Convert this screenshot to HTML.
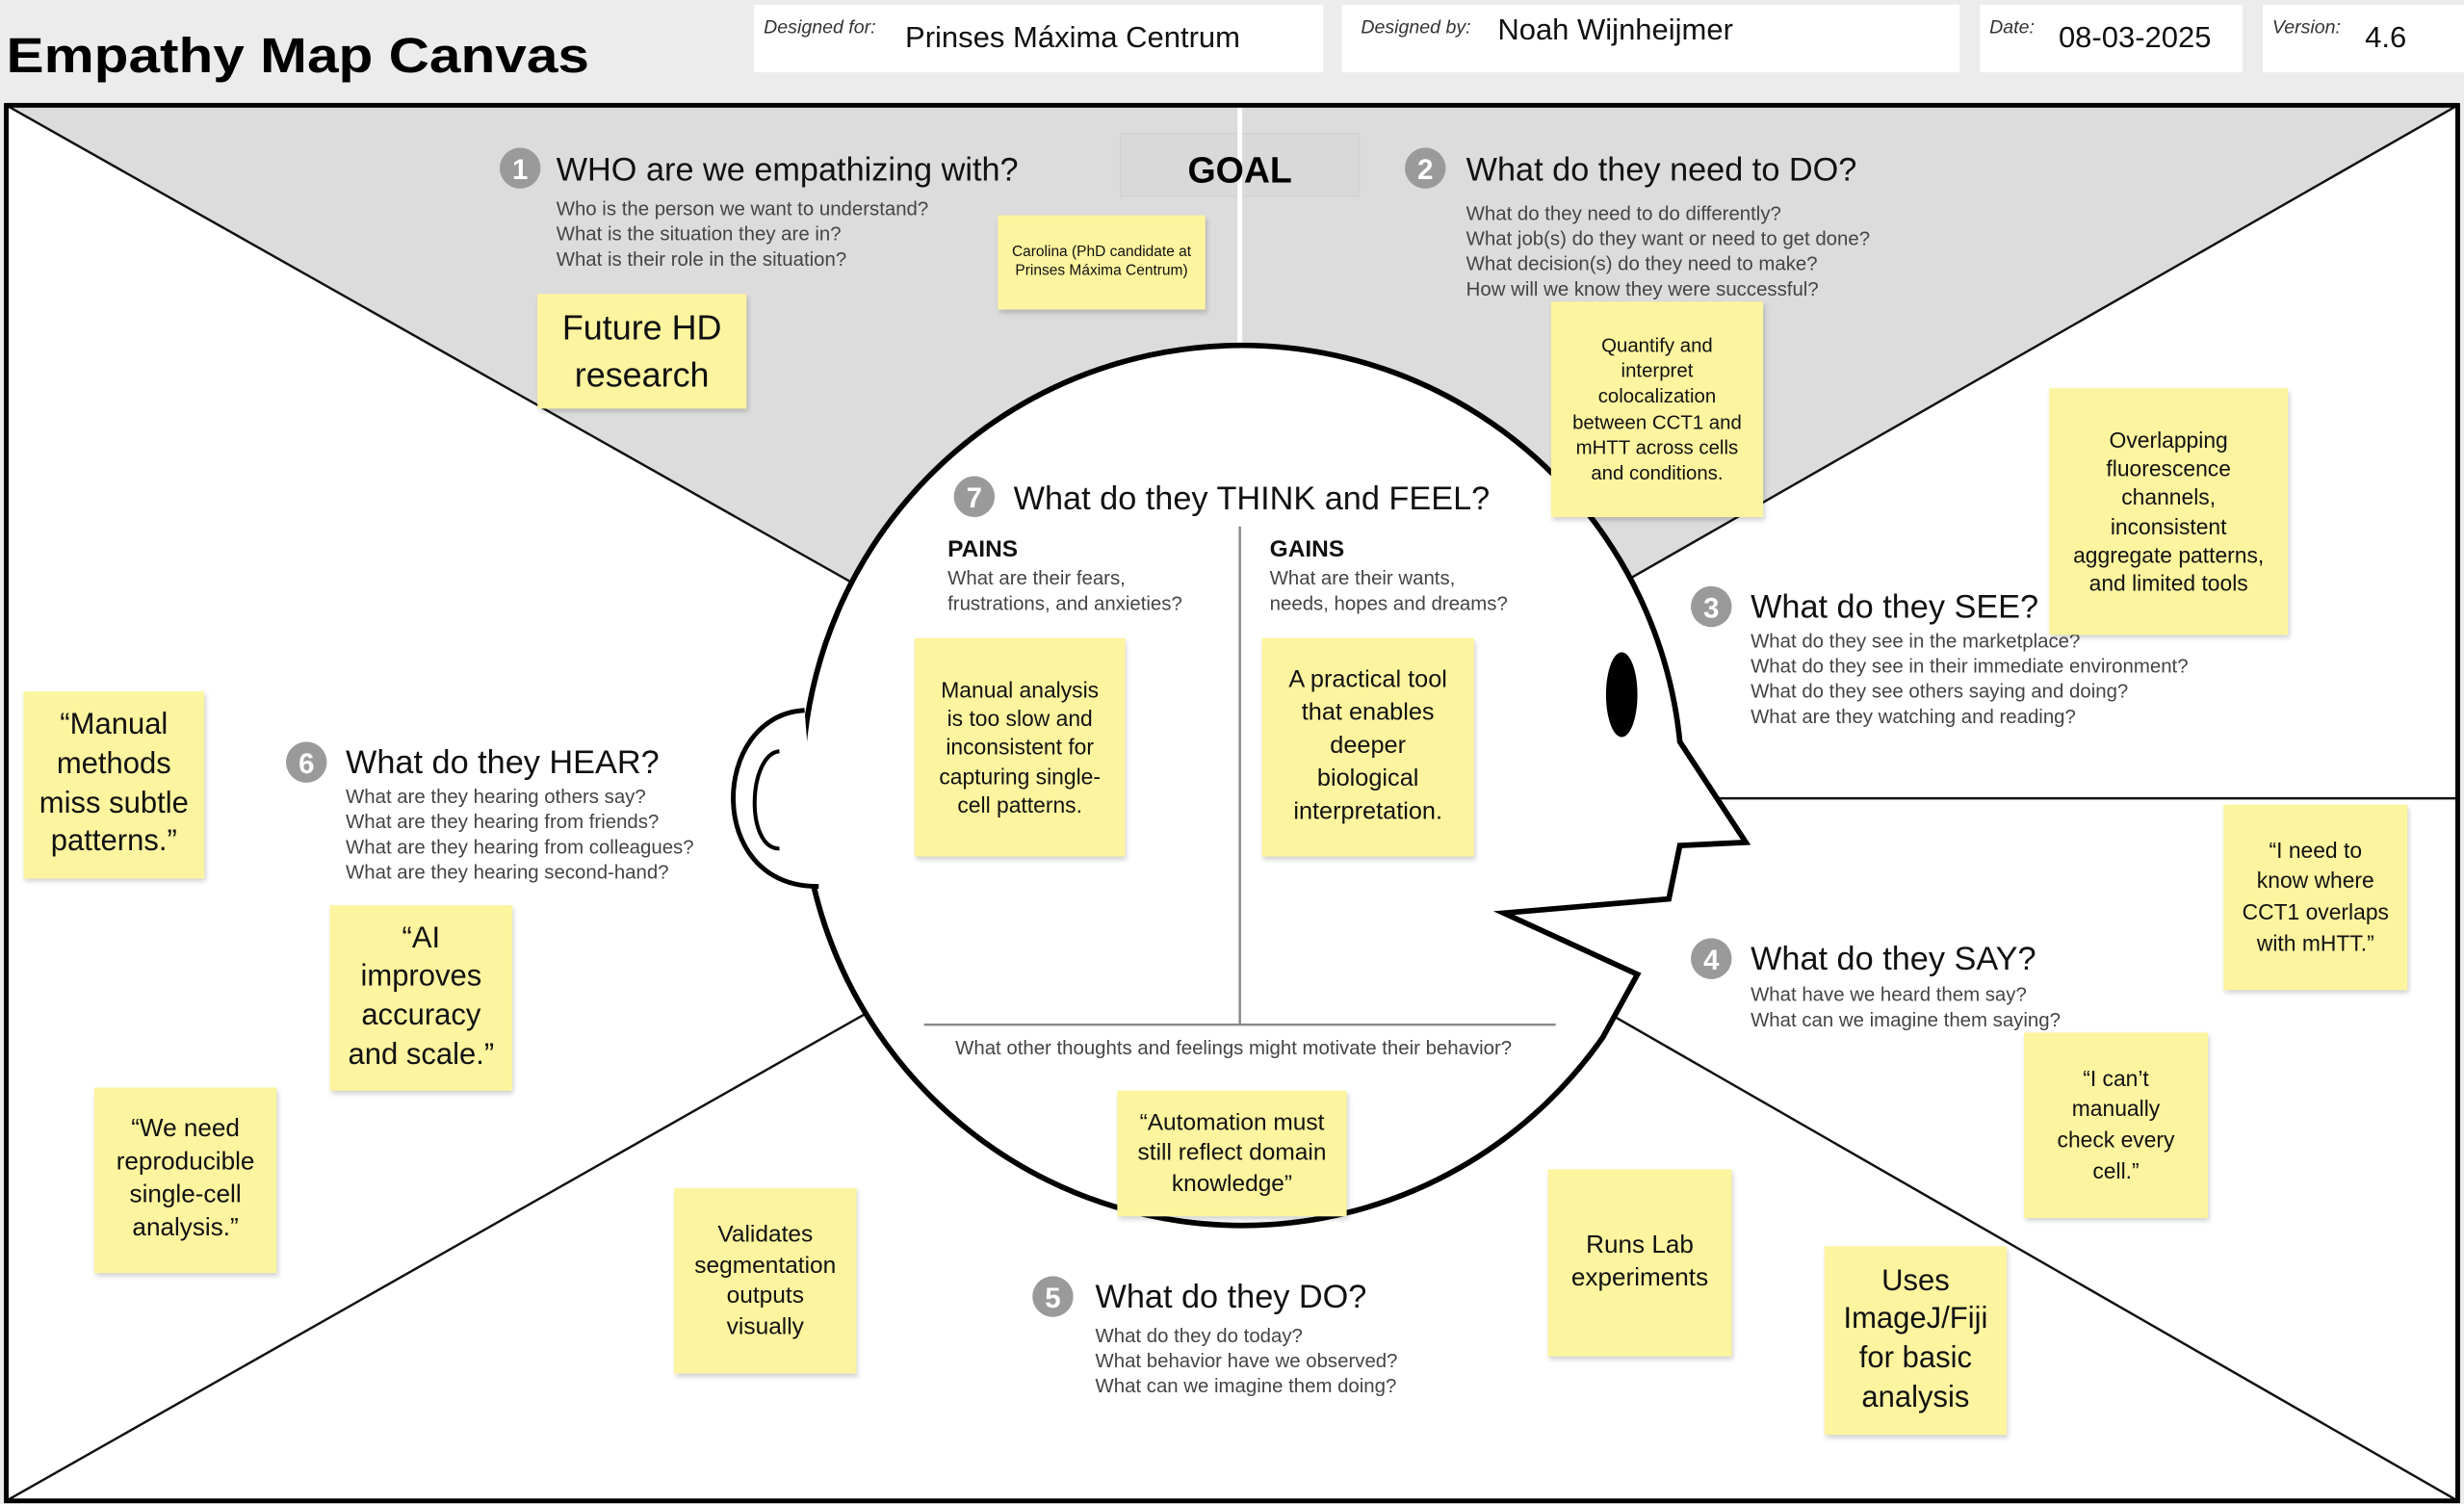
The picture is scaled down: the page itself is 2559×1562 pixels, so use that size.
<!DOCTYPE html>
<html><head><meta charset="utf-8">
<style>
html,body{margin:0;padding:0;background:#ececec;}
body{width:2559px;height:1562px;overflow:hidden;position:relative;}
#c{position:absolute;left:0;top:0;width:1568px;height:957px;transform:scale(1.63202,1.63218);transform-origin:0 0;font-family:"Liberation Sans",sans-serif;}
svg{position:absolute;left:0;top:0;}
.n{position:absolute;background:#fdf49f;box-shadow:1px 2px 3px rgba(0,0,0,0.18);display:flex;align-items:center;justify-content:center;text-align:center;color:#111;line-height:1.3;box-sizing:border-box;padding:4px;font-family:"Liberation Sans",sans-serif;white-space:nowrap;}
</style></head><body>
<div id="c">
<svg width="1568" height="957" viewBox="0 0 1568 957" font-family="Liberation Sans, sans-serif">
<rect x="0" y="0" width="1568" height="62" fill="#ececec"/>
<text x="4" y="46" font-size="31" font-weight="bold" textLength="371" lengthAdjust="spacingAndGlyphs">Empathy Map Canvas</text>
<rect x="480" y="3" width="362" height="43" fill="#fff"/>
<rect x="854" y="3" width="393" height="43" fill="#fff"/>
<rect x="1260" y="3" width="167" height="43" fill="#fff"/>
<rect x="1440" y="3" width="128" height="43" fill="#fff"/>
<g font-size="12" font-style="italic" fill="#333">
<text x="486" y="21">Designed for:</text>
<text x="866" y="21">Designed by:</text>
<text x="1266" y="21">Date:</text>
<text x="1446" y="21">Version:</text>
</g>
<g font-size="19" fill="#111">
<text x="576" y="30">Prinses Máxima Centrum</text>
<text x="953" y="25">Noah Wijnheijmer</text>
<text x="1310" y="30">08-03-2025</text>
<text x="1505" y="30">4.6</text>
</g>
<rect x="4" y="67" width="1560" height="888" fill="#fff"/>
<polygon points="4,67 1564,67 789,510" fill="#dcdcdc"/>
<rect x="713" y="85" width="152" height="40" fill="#d9d9d9" stroke="#d2d2d2" stroke-width="1"/>
<line x1="789" y1="67" x2="789" y2="230" stroke="#fff" stroke-width="3"/>
<g stroke="#111" stroke-width="1.5">
<line x1="4" y1="67" x2="789" y2="510"/>
<line x1="1564" y1="67" x2="789" y2="510"/>
<line x1="4" y1="955" x2="789" y2="510"/>
<line x1="1564" y1="955" x2="789" y2="510"/>
<line x1="1000" y1="508" x2="1564" y2="508"/>
</g>
<path d="M1069 472 A280 280 0 1 0 1020 660 L1042 620 L957 581 L1062 572 L1069 538 L1111 536 Z" fill="#fff" stroke="#000" stroke-width="3.5" stroke-linejoin="miter"/>
<path d="M512 452 C452 455 448 565 521 564" fill="#fff" stroke="#000" stroke-width="3"/>
<path d="M496 478 C476 480 474 540 496 540" fill="none" stroke="#000" stroke-width="2.5"/>
<ellipse cx="1032" cy="442" rx="10" ry="27" fill="#000"/>
<line x1="789" y1="335" x2="789" y2="652" stroke="#888" stroke-width="1.5"/>
<line x1="588" y1="652" x2="990" y2="652" stroke="#888" stroke-width="1.5"/>
<rect x="4" y="67" width="1560" height="888" fill="none" stroke="#000" stroke-width="3"/>
<text x="789" y="116" font-size="23" font-weight="bold" text-anchor="middle">GOAL</text>
<g fill="#9a9a9a">
<circle cx="331" cy="107" r="13"/><circle cx="907" cy="107" r="13"/><circle cx="620" cy="316" r="13"/>
<circle cx="1089" cy="386" r="13"/><circle cx="1089" cy="610" r="13"/><circle cx="195" cy="485" r="13"/><circle cx="670" cy="825" r="13"/>
</g>
<g fill="#fff" font-size="18" font-weight="bold" text-anchor="middle">
<text x="331" y="114">1</text><text x="907" y="114">2</text><text x="620" y="323">7</text>
<text x="1089" y="393">3</text><text x="1089" y="617">4</text><text x="195" y="492">6</text><text x="670" y="832">5</text>
</g>
<g font-size="21" fill="#111">
<text x="354" y="115">WHO are we empathizing with?</text>
<text x="933" y="115">What do they need to DO?</text>
<text x="645" y="324">What do they THINK and FEEL?</text>
<text x="1114" y="393">What do they SEE?</text>
<text x="1114" y="617">What do they SAY?</text>
<text x="220" y="492">What do they HEAR?</text>
<text x="697" y="832">What do they DO?</text>
</g>
<g font-size="15" font-weight="bold" fill="#111">
<text x="603" y="354">PAINS</text><text x="808" y="354">GAINS</text>
</g>
<g font-size="12.5" fill="#444">
<text x="354" y="137">Who is the person we want to understand?</text>
<text x="354" y="153">What is the situation they are in?</text>
<text x="354" y="169">What is their role in the situation?</text>
<text x="933" y="140">What do they need to do differently?</text>
<text x="933" y="156">What job(s) do they want or need to get done?</text>
<text x="933" y="172">What decision(s) do they need to make?</text>
<text x="933" y="188">How will we know they were successful?</text>
<text x="603" y="372">What are their fears,</text>
<text x="603" y="388">frustrations, and anxieties?</text>
<text x="808" y="372">What are their wants,</text>
<text x="808" y="388">needs, hopes and dreams?</text>
<text x="785" y="671" text-anchor="middle">What other thoughts and feelings might motivate their behavior?</text>
<text x="1114" y="412">What do they see in the marketplace?</text>
<text x="1114" y="428">What do they see in their immediate environment?</text>
<text x="1114" y="444">What do they see others saying and doing?</text>
<text x="1114" y="460">What are they watching and reading?</text>
<text x="1114" y="637">What have we heard them say?</text>
<text x="1114" y="653">What can we imagine them saying?</text>
<text x="220" y="511">What are they hearing others say?</text>
<text x="220" y="527">What are they hearing from friends?</text>
<text x="220" y="543">What are they hearing from colleagues?</text>
<text x="220" y="559">What are they hearing second-hand?</text>
<text x="697" y="854">What do they do today?</text>
<text x="697" y="870">What behavior have we observed?</text>
<text x="697" y="886">What can we imagine them doing?</text>
</g>
</svg>
<div class="n" style="left:342px;top:187px;width:133px;height:73px;font-size:22px;line-height:1.35">Future HD<br>research</div>
<div class="n" style="left:635px;top:137px;width:132px;height:60px;font-size:9.5px">Carolina (PhD candidate at<br>Prinses Máxima Centrum)</div>
<div class="n" style="left:987px;top:192px;width:135px;height:137px;font-size:12.5px">Quantify and<br>interpret<br>colocalization<br>between CCT1 and<br>mHTT across cells<br>and conditions.</div>
<div class="n" style="left:1304px;top:247px;width:152px;height:157px;font-size:14px">Overlapping<br>fluorescence<br>channels,<br>inconsistent<br>aggregate patterns,<br>and limited tools</div>
<div class="n" style="left:582px;top:406px;width:134px;height:139px;font-size:14px">Manual analysis<br>is too slow and<br>inconsistent for<br>capturing single-<br>cell patterns.</div>
<div class="n" style="left:803px;top:406px;width:135px;height:139px;font-size:15.5px;line-height:1.35">A practical tool<br>that enables<br>deeper<br>biological<br>interpretation.</div>
<div class="n" style="left:15px;top:440px;width:115px;height:119px;font-size:19px">“Manual<br>methods<br>miss subtle<br>patterns.”</div>
<div class="n" style="left:210px;top:576px;width:116px;height:118px;font-size:19px">“AI<br>improves<br>accuracy<br>and scale.”</div>
<div class="n" style="left:60px;top:692px;width:116px;height:118px;font-size:16px">“We need<br>reproducible<br>single-cell<br>analysis.”</div>
<div class="n" style="left:429px;top:756px;width:116px;height:118px;font-size:15px">Validates<br>segmentation<br>outputs<br>visually</div>
<div class="n" style="left:711px;top:694px;width:146px;height:80px;font-size:15px">“Automation must<br>still reflect domain<br>knowledge”</div>
<div class="n" style="left:985px;top:744px;width:117px;height:119px;font-size:16px">Runs Lab<br>experiments</div>
<div class="n" style="left:1415px;top:512px;width:117px;height:118px;font-size:14px;line-height:1.4">“I need to<br>know where<br>CCT1 overlaps<br>with mHTT.”</div>
<div class="n" style="left:1288px;top:657px;width:117px;height:118px;font-size:14px;line-height:1.4">“I can’t<br>manually<br>check every<br>cell.”</div>
<div class="n" style="left:1161px;top:793px;width:116px;height:120px;font-size:19px">Uses<br>ImageJ/Fiji<br>for basic<br>analysis</div>
</div>
</body></html>
